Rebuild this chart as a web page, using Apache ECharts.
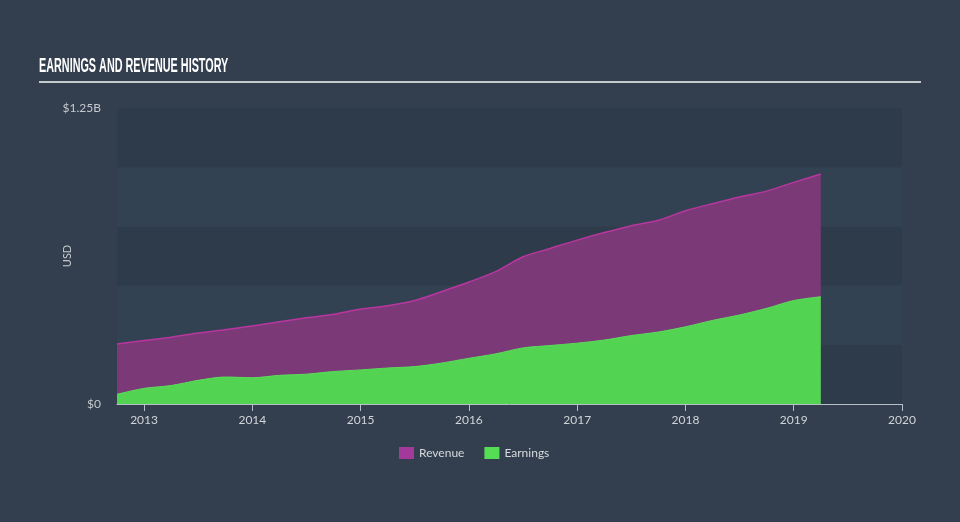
<!DOCTYPE html>
<html>
<head>
<meta charset="utf-8">
<script src="https://cdn.jsdelivr.net/npm/echarts@6/dist/echarts.min.js"></script>
<style>html,body{margin:0;padding:0;background:#333f4e;}#c{width:960px;height:522px;}</style>
</head>
<body>
<div id="c"></div>
<script>
// Quarter-end dates as fractional years
var periods = [2012.75, 2013.0, 2013.25, 2013.5, 2013.75, 2014.0, 2014.25, 2014.5, 2014.75,
  2015.0, 2015.25, 2015.5, 2015.75, 2016.0, 2016.25, 2016.5, 2016.75, 2017.0, 2017.25,
  2017.5, 2017.75, 2018.0, 2018.25, 2018.5, 2018.75, 2019.0, 2019.25];
// USD billions
var revenue = [0.253, 0.268, 0.282, 0.300, 0.314, 0.329, 0.347, 0.364, 0.379,
  0.401, 0.415, 0.437, 0.475, 0.515, 0.560, 0.622, 0.657, 0.692, 0.724,
  0.753, 0.776, 0.816, 0.846, 0.874, 0.899, 0.936, 0.971];
var earnings = [0.041, 0.066, 0.078, 0.100, 0.114, 0.111, 0.121, 0.126, 0.137,
  0.144, 0.152, 0.158, 0.173, 0.193, 0.212, 0.237, 0.247, 0.257, 0.270,
  0.289, 0.304, 0.326, 0.353, 0.376, 0.404, 0.437, 0.453];
var yearTicks = [2013, 2014, 2015, 2016, 2017, 2018, 2019, 2020];

var chart = echarts.init(document.getElementById('c'));
function pairs(ys) { return periods.map(function (p, i) { return [p, ys[i]]; }); }
var font = 'Lato, "Noto Sans", sans-serif';
chart.setOption({
  backgroundColor: '#333f4e',
  animation: false,
  graphic: [
    { type: 'text', x: 39, y: 56, scaleX: 0.515, scaleY: 1, style: { text: 'EARNINGS AND REVENUE HISTORY', fill: '#ffffff',
      font: 'bold 21px "Liberation Sans"' } },
    { type: 'line', shape: { x1: 39, y1: 82, x2: 921, y2: 82 }, style: { stroke: '#c4c9ce', lineWidth: 2 } }
  ],
  grid: { left: 117, right: 58, top: 108, bottom: 118 },
  legend: {
    data: ['Revenue', 'Earnings'], bottom: 58, left: 394, icon: 'rect',
    itemWidth: 15, itemHeight: 12, itemGap: 20,
    textStyle: { color: '#d6dade', fontSize: 12, fontFamily: font }
  },
  xAxis: {
    type: 'value', min: 2012.75, max: 2020,
    axisLine: { lineStyle: { color: '#b8bfc8', width: 1 } },
    axisTick: { show: true, customValues: yearTicks, length: 7, lineStyle: { color: '#b8bfc8' } },
    axisLabel: { customValues: yearTicks, color: '#d0d4d9', fontSize: 12, fontFamily: font, margin: 10,
      formatter: function (v) { return String(v); } },
    splitLine: { show: false }
  },
  yAxis: {
    type: 'value', min: 0, max: 1.25, interval: 0.25,
    name: 'USD', nameLocation: 'middle', nameRotate: 90, nameGap: 44, nameMoveOverlap: false,
    nameTextStyle: { color: '#c4c9ce', fontSize: 11, fontFamily: font },
    axisLine: { show: false }, axisTick: { show: false },
    axisLabel: { color: '#c4c9ce', fontSize: 12, fontFamily: font, margin: 16,
      formatter: function (v) { if (v === 0) return '$0'; if (Math.abs(v - 1.25) < 1e-9) return '$1.25B'; return ''; } },
    splitLine: { show: false },
    splitArea: { show: true, areaStyle: { color: ['#2e3b4a', '#334252'] } }
  },
  series: [
    { name: 'Revenue', type: 'line', data: pairs(revenue), smooth: 0.3, symbol: 'none',
      itemStyle: { color: '#a3399b' },
      lineStyle: { color: '#b8369f', width: 1.5 },
      areaStyle: { color: '#7b3a77', opacity: 1 } },
    { name: 'Earnings', type: 'line', data: pairs(earnings), smooth: 0.3, symbol: 'none',
      itemStyle: { color: '#55dd55' },
      lineStyle: { color: '#5add5a', width: 1 },
      areaStyle: { color: '#52d452', opacity: 1 } }
  ]
});
</script>
</body>
</html>
